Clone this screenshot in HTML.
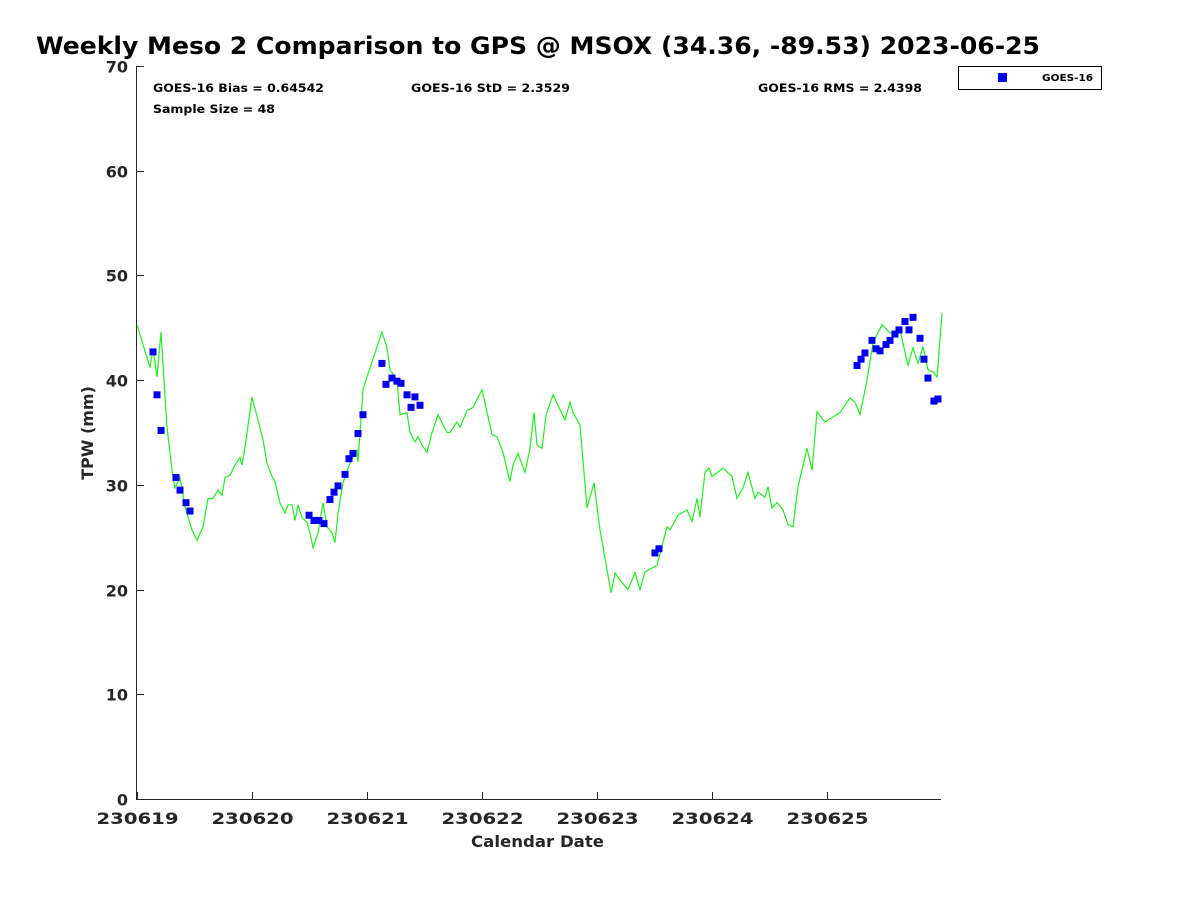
<!DOCTYPE html>
<html><head><meta charset="utf-8"><style>
body{margin:0;background:#fff;}
svg{display:block;font-family:"DejaVu Sans","Liberation Sans",sans-serif;}
</style></head><body>
<svg id="chart" width="1200" height="900" viewBox="0 0 1200 900">
<rect width="1200" height="900" fill="#fff"/>
<text x="36" y="54" font-size="24" font-weight="bold" textLength="1004" lengthAdjust="spacingAndGlyphs">Weekly Meso 2 Comparison to GPS @ MSOX (34.36, -89.53) 2023-06-25</text>
<g id="axes"></g>
<g id="series"></g>
<text x="153" y="92" font-size="11.5" font-weight="bold" textLength="171" lengthAdjust="spacingAndGlyphs">GOES-16 Bias = 0.64542</text>
<text x="411" y="92" font-size="11.5" font-weight="bold" textLength="159" lengthAdjust="spacingAndGlyphs">GOES-16 StD = 2.3529</text>
<text x="758" y="92" font-size="11.5" font-weight="bold" textLength="164" lengthAdjust="spacingAndGlyphs">GOES-16 RMS = 2.4398</text>
<text x="153" y="113" font-size="11.5" font-weight="bold" textLength="122" lengthAdjust="spacingAndGlyphs">Sample Size = 48</text>
<g>
<rect x="958.5" y="66.5" width="143" height="23" fill="#fff" stroke="#000" stroke-width="1"/>
<rect x="998" y="73" width="9" height="9" fill="#0000ee"/>
<text x="1042" y="81" font-size="10" font-weight="bold" textLength="51" lengthAdjust="spacingAndGlyphs">GOES-16</text>
</g>
<text x="471" y="847" font-size="16" font-weight="bold" textLength="133" lengthAdjust="spacingAndGlyphs" fill="#262626">Calendar Date</text>
<text transform="translate(93,433) rotate(-90)" font-size="16" font-weight="bold" text-anchor="middle" fill="#262626">TPW (mm)</text>
</svg>
<script>
const xTickLabels=["230619","230620","230621","230622","230623","230624","230625"];
const yTickValues=[0,10,20,30,40,50,60,70];
const gpsDays=[0,.113,.139,.174,.209,.261,.304,.330,.374,.417,.478,.522,.574,.617,.661,.704,.739,.765,.809,.852,.896,.913,.939,1.0,1.052,1.096,1.130,1.174,1.2,1.243,1.287,1.313,1.348,1.374,1.4,1.435,1.478,1.504,1.530,1.574,1.617,1.652,1.696,1.722,1.748,1.791,1.852,1.913,1.922,1.965,2.0,2.070,2.130,2.174,2.2,2.261,2.287,2.348,2.374,2.417,2.443,2.478,2.522,2.565,2.617,2.696,2.722,2.783,2.809,2.870,2.922,3.0,3.087,3.130,3.183,3.243,3.270,3.313,3.374,3.417,3.452,3.478,3.522,3.557,3.617,3.722,3.765,3.791,3.852,3.913,3.974,4.026,4.122,4.157,4.2,4.270,4.330,4.374,4.417,4.522,4.609,4.635,4.704,4.783,4.826,4.870,4.896,4.939,4.974,5.0,5.096,5.174,5.217,5.270,5.313,5.374,5.4,5.461,5.487,5.522,5.565,5.617,5.661,5.704,5.748,5.826,5.870,5.913,5.983,6.113,6.2,6.243,6.287,6.348,6.4,6.478,6.548,6.635,6.704,6.748,6.791,6.835,6.878,6.922,6.957,7.0];
const gpsTpw=[45.3,41.2,43.0,40.3,44.6,35.5,31.4,29.7,30.7,27.9,25.7,24.7,26.0,28.7,28.7,29.5,29.0,30.7,30.9,31.9,32.6,31.9,33.6,38.4,36.2,34.3,32.1,30.8,30.3,28.3,27.3,28.1,28.1,26.6,28.1,26.9,26.4,25.4,24.0,25.4,28.3,26.0,25.4,24.5,27.3,30.2,32.1,33.3,32.2,39.1,40.3,42.6,44.6,43.1,41.0,40.0,36.7,36.9,35.0,34.1,34.6,33.8,33.1,35.0,36.7,35.0,35.0,36.0,35.5,37.1,37.4,39.1,34.8,34.6,33.1,30.3,31.9,33.0,31.2,33.5,36.9,33.8,33.5,36.7,38.6,36.2,37.9,36.9,35.7,27.8,30.2,25.7,19.7,21.6,20.9,20.0,21.6,20.0,21.7,22.3,26.0,25.7,27.1,27.6,26.5,28.7,26.9,31.2,31.6,30.8,31.6,30.8,28.7,29.7,31.2,28.7,29.3,28.8,29.8,27.8,28.3,27.6,26.2,26.0,29.8,33.5,31.4,37.0,36.0,36.9,38.3,37.9,36.7,40.0,43.6,45.3,44.5,44.8,41.4,43.1,41.6,43.2,41.0,40.8,40.3,46.4];
const goesDays=[.139,.174,.209,.339,.374,.426,.461,1.496,1.539,1.583,1.626,1.678,1.713,1.748,1.809,1.843,1.878,1.922,1.965,2.130,2.165,2.217,2.261,2.296,2.348,2.383,2.417,2.461,4.504,4.539,6.261,6.296,6.330,6.391,6.426,6.461,6.513,6.548,6.591,6.626,6.678,6.713,6.748,6.809,6.843,6.878,6.930,6.965];
const goesTpw=[42.7,38.6,35.2,30.7,29.5,28.3,27.5,27.1,26.6,26.6,26.3,28.6,29.3,29.9,31.0,32.5,33.0,34.9,36.7,41.6,39.6,40.2,39.9,39.7,38.6,37.4,38.4,37.6,23.5,23.9,41.4,42.0,42.6,43.8,43.0,42.8,43.4,43.8,44.4,44.8,45.6,44.8,46.0,44.0,42.0,40.2,38.0,38.2];

const NS="http://www.w3.org/2000/svg";
const X0=137,PXD=115,Y0=799,PXU=10.471;
const xs=d=>X0+d*PXD, ys=v=>Y0-v*PXU;
function mk(tag,attrs,parent){const e=document.createElementNS(NS,tag);for(const k in attrs)e.setAttribute(k,attrs[k]);parent.appendChild(e);return e;}
const axes=document.getElementById('axes'), series=document.getElementById('series');
const yl=mk('line',{x1:136.5,y1:66,x2:136.5,y2:800,stroke:'#262626','stroke-width':1},axes);


const xl=mk('line',{x1:136,y1:799.5,x2:941,y2:799.5,stroke:'#262626','stroke-width':1},axes);


yTickValues.forEach(v=>{
  const y=Math.round(ys(v))+0.5;
  const t=mk('line',{x1:137,y1:y,x2:144,y2:y,stroke:'#262626'},axes);
  
  
  const tx=mk('text',{x:128,y:y+6,'font-size':16,'font-weight':'bold','text-anchor':'end',fill:'#262626'},axes);
  tx.textContent=v;
  
  
});
xTickLabels.forEach((lab,i)=>{
  const x=Math.round(xs(i))+0.5;
  const t=mk('line',{x1:x,y1:799,x2:x,y2:792,stroke:'#262626'},axes);
  
  
  const tx=mk('text',{x:x-41,y:824,'font-size':16,'font-weight':'bold',textLength:82,lengthAdjust:'spacingAndGlyphs',fill:'#262626'},axes);
  tx.textContent=lab;
  
  
});
const pts=gpsDays.map((d,i)=>xs(d).toFixed(1)+','+ys(gpsTpw[i]).toFixed(1)).join(' ');
const pl=mk('polyline',{points:pts,fill:'none',stroke:'#22ee22','stroke-width':1.2},series);


goesDays.forEach((d,i)=>{
  const r=mk('rect',{x:xs(d)-3.5,y:ys(goesTpw[i])-3.5,width:7,height:7,fill:'#0000ee'},series);
  
  
});
</script>
</body></html>
